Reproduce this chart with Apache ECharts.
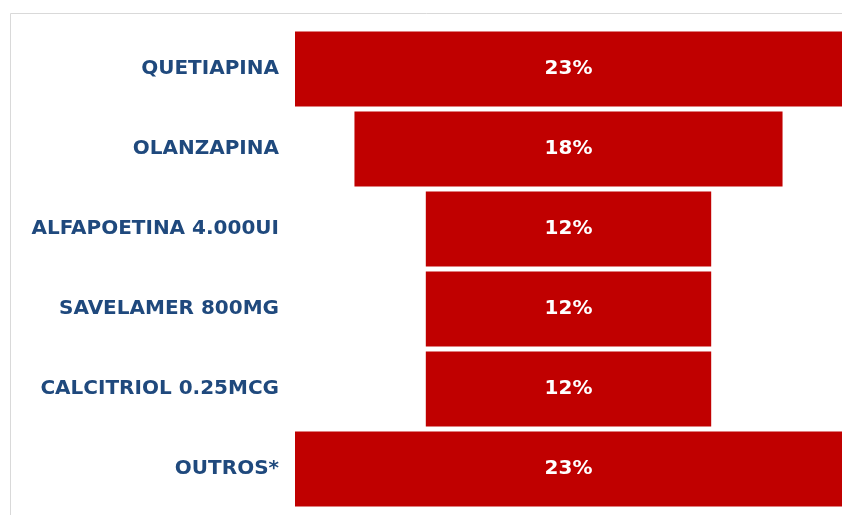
<!DOCTYPE html>
<html><head><meta charset="utf-8">
<script src="https://cdn.jsdelivr.net/npm/echarts@6/dist/echarts.min.js"></script>
<style>html,body{margin:0;padding:0;background:#fff}#c{width:842px;height:515px}</style>
</head><body><div id="c"></div>
<script>
const categories = ['QUETIAPINA','OLANZAPINA','ALFAPOETINA 4.000UI','SAVELAMER 800MG','CALCITRIOL 0.25MCG','OUTROS*'];
const values = [23, 18, 12, 12, 12, 23];
const maxValue = 23;
const offsets = values.map(v => (maxValue - v) / 2);

const chart = echarts.init(document.getElementById('c'), null, {renderer:'canvas'});
chart.setOption({
  animation:false,
  graphic:[{type:'rect', shape:{x:10.5,y:13.5,width:900,height:600}, style:{fill:'none',stroke:'#d9d9d9',lineWidth:1}, z:-1}],
  grid:{left:295, top:29, width:548, height:480},
  xAxis:{type:'value', min:0, max:maxValue, show:false},
  yAxis:{type:'category', data:categories, inverse:true,
    axisLine:{show:false}, axisTick:{show:false},
    axisLabel:{margin:16, color:'#1F497D', fontFamily:'DejaVu Sans', fontWeight:'bold', fontSize:20}},
  series:[
    {type:'bar', stack:'s', data:offsets, itemStyle:{color:'transparent'}, barWidth:75, silent:true},
    {type:'bar', stack:'s', data:values, barWidth:75, itemStyle:{color:'#C00000'},
     label:{show:true, position:'inside', formatter:'{c}%', color:'#fff', fontFamily:'DejaVu Sans', fontWeight:'bold', fontSize:20}}
  ]
});
</script></body></html>
